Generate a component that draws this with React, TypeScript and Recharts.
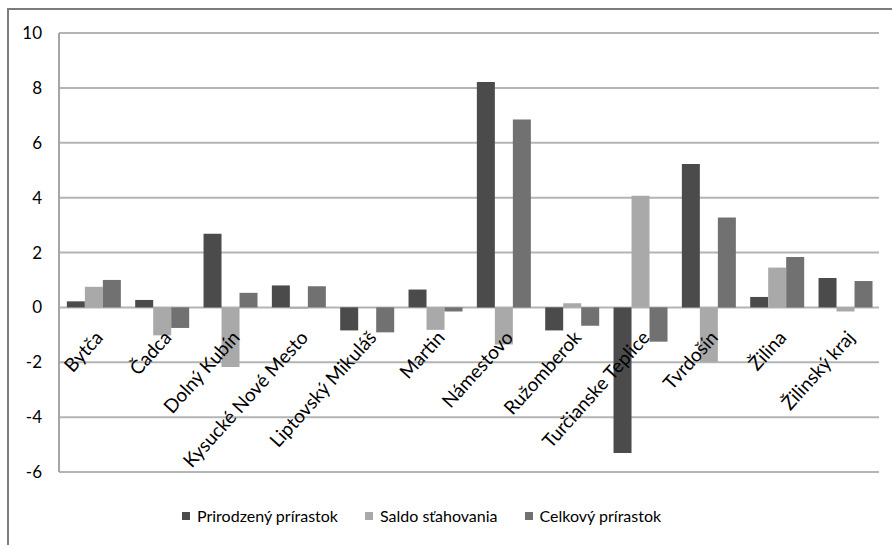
import React from 'react';
import { BarChart, Bar, XAxis, YAxis, CartesianGrid, Legend } from 'recharts';

const categories = [
  'Bytča', 'Čadca', 'Dolný Kubín', 'Kysucké Nové Mesto', 'Liptovský Mikuláš', 'Martin',
  'Námestovo', 'Ružomberok', 'Turčianske Teplice', 'Tvrdošín', 'Žilina', 'Žilinský kraj',
];
const prirodzeny = [0.22, 0.27, 2.68, 0.8, -0.84, 0.65, 8.21, -0.84, -5.31, 5.23, 0.38, 1.07];
const saldo = [0.75, -1.02, -2.17, -0.05, -0.02, -0.82, -1.35, 0.15, 4.07, -1.99, 1.45, -0.15];
const celkovy = [1.0, -0.75, 0.53, 0.77, -0.91, -0.15, 6.85, -0.67, -1.25, 3.28, 1.84, 0.96];
const yTicks = [-6, -4, -2, 0, 2, 4, 6, 8, 10];
const seriesNames = ['Prirodzený prírastok', 'Saldo sťahovania', 'Celkový prírastok'];
const seriesColors = ['#4b4b4b', '#a9a9a9', '#717171'];

const data = categories.map((c, i) => ({
  name: c,
  a: prirodzeny[i],
  b: saldo[i],
  c: celkovy[i],
}));

const W = 892;
const H = 545;
const MARGIN = { top: 33, right: 13, left: 8, bottom: 43 };
const XAXIS_H = 30;
const YMIN = -6;
const YMAX = 10;
const PLOT_H = H - MARGIN.top - MARGIN.bottom - XAXIS_H;
const ZERO_SHIFT = (PLOT_H * (0 - YMIN)) / (YMAX - YMIN);
const FONT = 'Lato, "Open Sans", sans-serif';

const XTick = (props: any) => {
  const { x, y, payload } = props;
  const ax = x + 11;
  const ay = y - ZERO_SHIFT + 31;
  return (
    <text
      x={ax}
      y={ay}
      transform={`rotate(-48, ${ax}, ${ay})`}
      textAnchor="end"
      fill="#000"
      fontSize={19}
      fontFamily={FONT}
    >
      {payload.value}
    </text>
  );
};

const LegendContent = () => (
  <div style={{ display: 'flex', alignItems: 'center', fontFamily: FONT, fontSize: 16, color: '#000', whiteSpace: 'nowrap' }}>
    {seriesNames.map((n, i) => (
      <div key={n} style={{ display: 'flex', alignItems: 'center', marginRight: i < 2 ? 27 : 0 }}>
        <span style={{ display: 'inline-block', width: 8, height: 8, background: seriesColors[i], marginRight: 7 }} />
        <span>{n}</span>
      </div>
    ))}
  </div>
);

export default function App() {
  return (
    <div style={{ position: 'fixed', left: 0, top: 0, width: W, height: H, overflow: 'hidden', background: '#fff' }}>
      <div
        style={{
          position: 'absolute',
          left: 7,
          top: 8,
          width: 920,
          height: 580,
          borderTop: '2px solid #7c7c7c',
          borderLeft: '2px solid #7c7c7c',
        }}
      />
      <div style={{ position: 'absolute', left: 0, top: 0 }}>
        <BarChart width={W} height={H} data={data} margin={MARGIN} barGap={0} barCategoryGap="11.5%">
          <CartesianGrid vertical={false} stroke="#b4b4b4" strokeWidth={2} />
          <XAxis
            dataKey="name"
            height={XAXIS_H}
            axisLine={false}
            tickLine={false}
            tickSize={0}
            tickMargin={0}
            interval={0}
            tick={<XTick />}
          />
          <YAxis
            domain={[YMIN, YMAX]}
            ticks={yTicks}
            width={51}
            axisLine={{ stroke: '#a6a6a6', strokeWidth: 2 }}
            tickLine={false}
            tickSize={0}
            tickMargin={17}
            tick={{ fill: '#000', fontSize: 17, fontFamily: FONT }}
            interval={0}
          />
          <Legend
            verticalAlign="middle"
            align="center"
            wrapperStyle={{ top: 506, left: 182, width: 'auto' }}
            content={<LegendContent />}
          />
          <Bar dataKey="a" name={seriesNames[0]} fill={seriesColors[0]} isAnimationActive={false} />
          <Bar dataKey="b" name={seriesNames[1]} fill={seriesColors[1]} isAnimationActive={false} />
          <Bar dataKey="c" name={seriesNames[2]} fill={seriesColors[2]} isAnimationActive={false} />
        </BarChart>
      </div>
    </div>
  );
}
